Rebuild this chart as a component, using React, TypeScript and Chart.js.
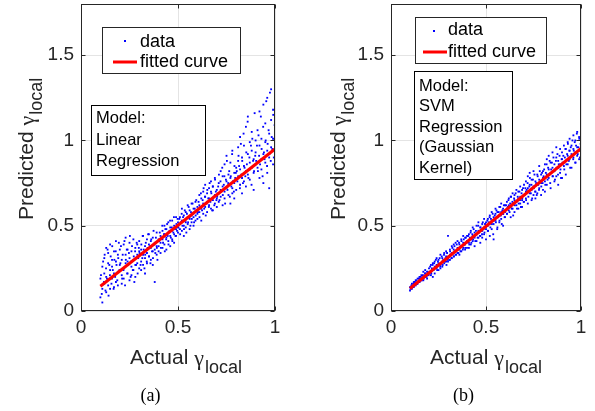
import React, { useEffect, useRef } from "react";
import { Chart, registerables } from "chart.js";

Chart.register(...registerables);

// ---------------- data ----------------
const xTickValues = [0, 0.5, 1];
const xTickLabels = ["0", "0.5", "1"];
const yTickValues = [0, 0.5, 1, 1.5];
const yTickLabels = ["0", "0.5", "1", "1.5"];

const actualGamma = [
  0.10, 0.10, 0.11, 0.11, 0.11, 0.12, 0.12, 0.12, 0.13, 0.13, 0.13, 0.14, 0.14, 0.14, 0.15, 0.15, 0.15, 0.16, 0.16, 0.16, 0.17, 0.17, 0.17, 0.18, 0.18, 0.18, 0.19, 0.19, 0.19, 0.20,
  0.20, 0.21, 0.21, 0.21, 0.22, 0.22, 0.22, 0.23, 0.23, 0.23, 0.24, 0.24, 0.24, 0.25, 0.25, 0.25, 0.26, 0.26, 0.26, 0.27, 0.27, 0.27, 0.28, 0.28, 0.28, 0.29, 0.29, 0.29, 0.30, 0.30,
  0.30, 0.31, 0.31, 0.31, 0.32, 0.32, 0.32, 0.33, 0.33, 0.33, 0.34, 0.34, 0.34, 0.35, 0.35, 0.35, 0.36, 0.36, 0.36, 0.37, 0.37, 0.37, 0.38, 0.38, 0.38, 0.39, 0.39, 0.39, 0.40, 0.40,
  0.40, 0.41, 0.41, 0.41, 0.42, 0.42, 0.42, 0.43, 0.43, 0.43, 0.44, 0.44, 0.44, 0.45, 0.45, 0.45, 0.46, 0.46, 0.46, 0.47, 0.47, 0.47, 0.48, 0.48, 0.48, 0.49, 0.49, 0.49, 0.50, 0.50,
  0.50, 0.51, 0.51, 0.51, 0.52, 0.52, 0.52, 0.53, 0.53, 0.53, 0.54, 0.54, 0.54, 0.55, 0.55, 0.55, 0.56, 0.56, 0.56, 0.57, 0.57, 0.57, 0.58, 0.58, 0.58, 0.59, 0.59, 0.59, 0.60, 0.60,
  0.60, 0.61, 0.61, 0.61, 0.62, 0.62, 0.62, 0.63, 0.63, 0.63, 0.64, 0.64, 0.64, 0.65, 0.65, 0.65, 0.66, 0.66, 0.66, 0.67, 0.67, 0.67, 0.68, 0.68, 0.68, 0.69, 0.69, 0.69, 0.70, 0.70,
  0.70, 0.71, 0.71, 0.71, 0.72, 0.72, 0.72, 0.73, 0.73, 0.73, 0.74, 0.74, 0.74, 0.75, 0.75, 0.75, 0.76, 0.76, 0.76, 0.77, 0.77, 0.77, 0.78, 0.78, 0.78, 0.79, 0.79, 0.79, 0.80, 0.80,
  0.80, 0.81, 0.81, 0.81, 0.82, 0.82, 0.82, 0.83, 0.83, 0.83, 0.84, 0.84, 0.84, 0.85, 0.85, 0.85, 0.86, 0.86, 0.86, 0.87, 0.87, 0.87, 0.88, 0.88, 0.88, 0.89, 0.89, 0.89, 0.90, 0.90,
  0.90, 0.91, 0.91, 0.92, 0.92, 0.92, 0.93, 0.93, 0.93, 0.94, 0.94, 0.94, 0.95, 0.95, 0.95, 0.96, 0.96, 0.96, 0.97, 0.97, 0.97, 0.98, 0.98, 0.98, 0.99, 0.99, 0.99, 1.00, 1.00, 1.00,
  0.103, 0.107, 0.114, 0.118, 0.122, 0.126, 0.129, 0.134, 0.137, 0.142, 0.146, 0.149, 0.153, 0.157, 0.161, 0.164, 0.168, 0.172, 0.176, 0.179, 0.183, 0.187, 0.192, 0.195, 0.198,
  0.203, 0.206, 0.212, 0.215, 0.219, 0.224, 0.227, 0.231, 0.236, 0.238, 0.243, 0.247, 0.252, 0.256, 0.259, 0.263, 0.267, 0.272, 0.275, 0.279, 0.284, 0.287, 0.292, 0.295, 0.298,
  0.302, 0.307, 0.311, 0.316, 0.318, 0.323, 0.327, 0.331, 0.334, 0.339, 0.343, 0.346, 0.351, 0.355, 0.358, 0.362, 0.366, 0.371, 0.374, 0.378, 0.383, 0.386, 0.391, 0.394, 0.398,
  0.403, 0.406, 0.412, 0.415, 0.419, 0.423, 0.428, 0.432, 0.435, 0.439, 0.444, 0.447, 0.451, 0.456, 0.459, 0.463, 0.468, 0.471, 0.476, 0.479, 0.483, 0.487, 0.492, 0.495, 0.498,
  0.502, 0.507, 0.511, 0.514, 0.519, 0.523, 0.526, 0.531, 0.535, 0.538, 0.543, 0.546, 0.552, 0.555, 0.559, 0.564, 0.567, 0.571, 0.575, 0.578, 0.583, 0.586, 0.591, 0.594, 0.598,
  0.603, 0.606, 0.611, 0.615, 0.618, 0.624, 0.627, 0.632, 0.635, 0.639, 0.643, 0.648, 0.651, 0.656, 0.659, 0.663, 0.667, 0.672, 0.676, 0.679, 0.684, 0.687, 0.691, 0.695, 0.698,
  0.702, 0.707, 0.711, 0.714, 0.719, 0.723, 0.728, 0.731, 0.736, 0.739, 0.743, 0.747, 0.752, 0.755, 0.759, 0.764, 0.767, 0.772, 0.775, 0.779, 0.783, 0.788, 0.791, 0.795, 0.798,
  0.803, 0.806, 0.812, 0.815, 0.819, 0.824, 0.827, 0.831, 0.835, 0.838, 0.843, 0.847, 0.852, 0.855, 0.859, 0.863, 0.868, 0.871, 0.876, 0.879, 0.883, 0.887, 0.892, 0.895, 0.898,
  0.903, 0.907, 0.912, 0.915, 0.918, 0.923, 0.927, 0.931, 0.936, 0.939, 0.943, 0.946, 0.952, 0.955, 0.959, 0.962, 0.967, 0.971, 0.974, 0.978, 0.983, 0.986, 0.991, 0.994, 0.998,
];

const linearPredicted = [
  0.19, 0.08, 0.26, 0.13, 0.05, 0.22, 0.31, 0.16, 0.37, 0.20, 0.11, 0.28, 0.15, 0.34, 0.24, 0.39, 0.13, 0.30, 0.19, 0.26, 0.35, 0.14, 0.22, 0.29, 0.17, 0.41, 0.33, 0.23, 0.15, 0.27,
  0.36, 0.21, 0.30, 0.16, 0.39, 0.25, 0.19, 0.33, 0.28, 0.43, 0.22, 0.36, 0.29, 0.18, 0.31, 0.40, 0.26, 0.35, 0.21, 0.30, 0.42, 0.24, 0.37, 0.27, 0.20, 0.33, 0.39, 0.28, 0.25, 0.35,
  0.41, 0.29, 0.36, 0.24, 0.33, 0.44, 0.27, 0.38, 0.31, 0.22, 0.42, 0.34, 0.28, 0.39, 0.32, 0.45, 0.30, 0.37, 0.41, 0.35, 0.27, 0.43, 0.17, 0.36, 0.40, 0.33, 0.46, 0.38, 0.35, 0.42,
  0.38, 0.44, 0.34, 0.40, 0.47, 0.37, 0.42, 0.45, 0.39, 0.50, 0.43, 0.36, 0.48, 0.41, 0.46, 0.52, 0.44, 0.38, 0.49, 0.47, 0.42, 0.53, 0.45, 0.50, 0.40, 0.48, 0.55, 0.44, 0.49, 0.52,
  0.46, 0.51, 0.55, 0.48, 0.53, 0.60, 0.47, 0.50, 0.56, 0.44, 0.52, 0.58, 0.49, 0.55, 0.51, 0.62, 0.54, 0.48, 0.59, 0.56, 0.52, 0.63, 0.55, 0.60, 0.50, 0.58, 0.53, 0.64, 0.57, 0.61,
  0.54, 0.62, 0.58, 0.68, 0.60, 0.53, 0.66, 0.63, 0.70, 0.57, 0.61, 0.67, 0.74, 0.64, 0.58, 0.69, 0.62, 0.72, 0.66, 0.60, 0.70, 0.76, 0.65, 0.59, 0.73, 0.68, 0.63, 0.78, 0.71, 0.66,
  0.61, 0.69, 0.75, 0.64, 0.82, 0.71, 0.67, 0.73, 0.62, 0.79, 0.70, 0.86, 0.66, 0.76, 0.72, 0.91, 0.68, 0.80, 0.74, 0.63, 0.78, 0.87, 0.72, 0.94, 0.69, 0.81, 0.75, 0.66, 0.84, 0.77,
  0.71, 0.88, 0.79, 0.96, 0.74, 0.83, 1.02, 0.78, 0.90, 0.69, 0.85, 0.97, 0.76, 0.82, 1.08, 0.73, 0.92, 0.80, 1.14, 0.87, 0.77, 0.99, 0.84, 0.94, 1.05, 0.81, 0.89, 0.71, 1.00, 0.86,
  0.93, 0.84, 1.06, 0.97, 0.78, 1.17, 0.89, 1.01, 0.83, 0.92, 1.21, 0.75, 0.99, 0.87, 1.10, 0.94, 1.25, 0.81, 1.04, 0.90, 0.72, 1.30, 0.96, 1.12, 0.86, 1.01, 1.18, 1.35, 0.93, 1.08,
  0.21, 0.10, 0.29, 0.17, 0.33, 0.12, 0.25, 0.19, 0.36, 0.09, 0.27, 0.21, 0.32, 0.16, 0.38, 0.24, 0.13, 0.30, 0.20, 0.35, 0.27, 0.18, 0.31, 0.40, 0.24,
  0.28, 0.38, 0.19, 0.33, 0.24, 0.41, 0.15, 0.30, 0.36, 0.22, 0.27, 0.34, 0.44, 0.20, 0.29, 0.38, 0.24, 0.32, 0.17, 0.35, 0.27, 0.40, 0.22, 0.31, 0.37,
  0.34, 0.27, 0.39, 0.31, 0.44, 0.36, 0.25, 0.33, 0.40, 0.29, 0.37, 0.45, 0.32, 0.38, 0.28, 0.42, 0.35, 0.31, 0.47, 0.39, 0.34, 0.43, 0.37, 0.30, 0.41,
  0.41, 0.46, 0.37, 0.43, 0.50, 0.40, 0.45, 0.35, 0.48, 0.42, 0.51, 0.44, 0.39, 0.47, 0.53, 0.43, 0.49, 0.41, 0.46, 0.55, 0.48, 0.44, 0.51, 0.47, 0.54,
  0.49, 0.54, 0.45, 0.52, 0.57, 0.50, 0.55, 0.48, 0.59, 0.53, 0.46, 0.57, 0.52, 0.61, 0.55, 0.50, 0.58, 0.54, 0.63, 0.57, 0.52, 0.60, 0.56, 0.65, 0.59,
  0.58, 0.64, 0.55, 0.61, 0.69, 0.59, 0.65, 0.72, 0.60, 0.67, 0.56, 0.63, 0.71, 0.66, 0.61, 0.75, 0.64, 0.69, 0.59, 0.73, 0.67, 0.62, 0.77, 0.70, 0.65,
  0.67, 0.73, 0.80, 0.65, 0.76, 0.70, 0.84, 0.68, 0.74, 0.79, 0.63, 0.77, 0.88, 0.71, 0.75, 0.82, 0.67, 0.79, 0.73, 0.92, 0.76, 0.70, 0.85, 0.78, 0.81,
  0.82, 0.76, 0.91, 0.85, 0.72, 0.98, 0.80, 0.88, 0.75, 1.04, 0.84, 0.79, 0.93, 0.86, 1.11, 0.78, 0.90, 0.83, 0.97, 0.74, 1.01, 0.88, 0.82, 1.16, 0.91,
  0.88, 0.97, 0.82, 1.03, 0.91, 0.86, 1.14, 0.95, 0.79, 1.08, 0.93, 0.89, 1.00, 1.23, 0.85, 0.98, 1.06, 0.92, 1.28, 0.88, 1.02, 0.95, 1.15, 0.90, 1.09,
];

const svmPredicted = [
  0.14, 0.12, 0.16, 0.13, 0.15, 0.17, 0.14, 0.15, 0.18, 0.15, 0.16, 0.19, 0.16, 0.17, 0.20, 0.17, 0.19, 0.21, 0.18, 0.19, 0.20, 0.23, 0.18, 0.22, 0.20, 0.24, 0.21, 0.23, 0.19, 0.22,
  0.25, 0.21, 0.27, 0.23, 0.24, 0.20, 0.28, 0.26, 0.22, 0.29, 0.25, 0.27, 0.31, 0.28, 0.24, 0.30, 0.27, 0.33, 0.25, 0.29, 0.31, 0.26, 0.30, 0.34, 0.28, 0.32, 0.29, 0.35, 0.31, 0.44,
  0.29, 0.33, 0.30, 0.36, 0.34, 0.31, 0.38, 0.32, 0.36, 0.39, 0.35, 0.33, 0.40, 0.37, 0.34, 0.41, 0.36, 0.39, 0.33, 0.38, 0.42, 0.35, 0.40, 0.37, 0.44, 0.39, 0.36, 0.43, 0.41, 0.37,
  0.44, 0.40, 0.45, 0.37, 0.42, 0.47, 0.39, 0.44, 0.41, 0.49, 0.43, 0.38, 0.46, 0.45, 0.41, 0.50, 0.47, 0.43, 0.52, 0.44, 0.49, 0.40, 0.47, 0.51, 0.43, 0.49, 0.45, 0.54, 0.48, 0.42,
  0.52, 0.47, 0.54, 0.50, 0.56, 0.44, 0.51, 0.53, 0.58, 0.48, 0.55, 0.51, 0.42, 0.57, 0.53, 0.60, 0.55, 0.49, 0.58, 0.56, 0.61, 0.52, 0.58, 0.54, 0.63, 0.57, 0.50, 0.60, 0.58, 0.62,
  0.55, 0.60, 0.64, 0.57, 0.62, 0.66, 0.59, 0.61, 0.67, 0.55, 0.63, 0.60, 0.69, 0.65, 0.58, 0.68, 0.62, 0.71, 0.64, 0.66, 0.60, 0.70, 0.67, 0.63, 0.73, 0.65, 0.71, 0.61, 0.68, 0.74,
  0.64, 0.70, 0.76, 0.66, 0.72, 0.79, 0.63, 0.69, 0.74, 0.81, 0.71, 0.65, 0.77, 0.73, 0.68, 0.82, 0.70, 0.76, 0.66, 0.74, 0.80, 0.69, 0.77, 0.72, 0.85, 0.75, 0.68, 0.80, 0.78, 0.71,
  0.82, 0.76, 0.86, 0.70, 0.80, 0.89, 0.74, 0.83, 0.78, 0.91, 0.81, 0.72, 0.87, 0.84, 0.79, 0.93, 0.76, 0.86, 0.82, 0.90, 0.79, 0.96, 0.84, 0.74, 0.88, 0.86, 0.81, 0.95, 0.89, 0.78,
  0.93, 0.85, 0.97, 0.88, 0.95, 0.80, 0.91, 0.99, 0.86, 0.94, 0.89, 1.01, 0.92, 0.84, 0.97, 0.95, 0.90, 1.03, 0.93, 0.87, 1.00, 0.96, 0.91, 1.05, 0.94, 0.89, 1.02, 0.98, 1.07, 0.93,
  0.13, 0.15, 0.14, 0.16, 0.15, 0.17, 0.16, 0.18, 0.16, 0.17, 0.19, 0.17, 0.18, 0.20, 0.18, 0.19, 0.21, 0.19, 0.20, 0.22, 0.21, 0.20, 0.23, 0.22, 0.21,
  0.23, 0.26, 0.22, 0.25, 0.27, 0.24, 0.28, 0.25, 0.30, 0.26, 0.24, 0.29, 0.27, 0.31, 0.26, 0.28, 0.32, 0.27, 0.30, 0.33, 0.29, 0.31, 0.27, 0.34, 0.30,
  0.32, 0.30, 0.35, 0.33, 0.31, 0.37, 0.34, 0.32, 0.38, 0.35, 0.33, 0.39, 0.36, 0.34, 0.40, 0.37, 0.35, 0.41, 0.38, 0.36, 0.42, 0.39, 0.37, 0.43, 0.40,
  0.41, 0.44, 0.39, 0.43, 0.46, 0.40, 0.45, 0.42, 0.48, 0.44, 0.41, 0.47, 0.45, 0.43, 0.50, 0.46, 0.44, 0.49, 0.47, 0.45, 0.52, 0.48, 0.46, 0.51, 0.49,
  0.50, 0.53, 0.47, 0.52, 0.55, 0.49, 0.54, 0.51, 0.57, 0.45, 0.53, 0.56, 0.52, 0.59, 0.48, 0.55, 0.58, 0.53, 0.61, 0.56, 0.51, 0.59, 0.57, 0.62, 0.55,
  0.59, 0.62, 0.57, 0.61, 0.65, 0.58, 0.63, 0.67, 0.60, 0.64, 0.56, 0.66, 0.62, 0.69, 0.64, 0.60, 0.67, 0.63, 0.70, 0.65, 0.61, 0.69, 0.66, 0.72, 0.64,
  0.68, 0.72, 0.65, 0.71, 0.75, 0.67, 0.73, 0.78, 0.69, 0.74, 0.66, 0.77, 0.72, 0.80, 0.70, 0.75, 0.68, 0.79, 0.74, 0.71, 0.82, 0.76, 0.73, 0.81, 0.75,
  0.79, 0.83, 0.74, 0.81, 0.86, 0.77, 0.84, 0.80, 0.88, 0.75, 0.83, 0.87, 0.79, 0.90, 0.82, 0.77, 0.88, 0.84, 0.92, 0.80, 0.86, 0.91, 0.83, 0.78, 0.89,
  0.87, 0.91, 0.83, 0.90, 0.95, 0.86, 0.92, 0.98, 0.88, 0.94, 0.84, 0.96, 0.91, 1.00, 0.89, 0.94, 0.99, 0.87, 0.97, 1.04, 0.92, 0.96, 1.01, 0.90, 0.98,
];

const fitActual = [0.1, 1.0];
const linearFitPredicted = [0.145, 0.95];
const svmFitPredicted = [0.132, 0.953];

const legendLabels = ["data", "fitted curve"];
const linearModelText = ["Model:", "Linear", "Regression"];
const svmModelText = ["Model:", "SVM", "Regression", "(Gaussian", "Kernel)"];
const panelLabels = ["(a)", "(b)"];

// ---------------- styling / layout ----------------
const FONT = '"Liberation Sans", Arial, Helvetica, sans-serif';
const SERIF = '"Liberation Serif", "Times New Roman", serif';
const INK = "#262626";
const H = 411;

type Panel = {
  offsetX: number;
  width: number;
  area: { left: number; right: number; top: number; bottom: number };
  predicted: number[];
  fitPredicted: number[];
  yTitle: { x: number; y: number };
  xTitle: { x: number; y: number };
  label: string;
  labelPos: { x: number; y: number };
  legend: {
    x: number; y: number; w: number; h: number;
    dot: [number, number]; t1: [number, number];
    line: [number, number, number]; t2: [number, number];
  };
  model: { x: number; y: number; w: number; h: number; tx: number; baselines: number[]; lines: string[] };
};

const panels: Panel[] = [
  {
    offsetX: 0,
    width: 298,
    area: { left: 81, right: 275, top: 3, bottom: 311 },
    predicted: linearPredicted,
    fitPredicted: linearFitPredicted,
    yTitle: { x: 33, y: 220 },
    xTitle: { x: 130, y: 364 },
    label: panelLabels[0],
    labelPos: { x: 150.5, y: 401 },
    legend: { x: 102, y: 27, w: 138, h: 46, dot: [125, 41], t1: [140, 47], line: [113, 137, 62], t2: [140, 67] },
    model: { x: 91, y: 105, w: 114, h: 70, tx: 96, baselines: [123, 145, 166], lines: linearModelText },
  },
  {
    offsetX: 298,
    width: 297,
    area: { left: 93, right: 283, top: 3, bottom: 311 },
    predicted: svmPredicted,
    fitPredicted: svmFitPredicted,
    yTitle: { x: 345, y: 220 },
    xTitle: { x: 430, y: 364 },
    label: panelLabels[1],
    labelPos: { x: 463.5, y: 401 },
    legend: { x: 415, y: 17, w: 131, h: 46, dot: [434, 31], t1: [448, 35], line: [423, 447, 52], t2: [448, 57] },
    model: { x: 414, y: 71, w: 98, h: 108, tx: 419, baselines: [91, 111, 132, 152, 173], lines: svmModelText },
  },
];

type Part = { t: string; size: number; dy: number; family: string };
const titleParts = (word: string): Part[] => [
  { t: word + " ", size: 21, dy: 0, family: FONT },
  { t: "\u03B3", size: 22, dy: 1, family: SERIF },
  { t: "local", size: 18, dy: 9, family: FONT },
];

function drawRich(ctx: CanvasRenderingContext2D, parts: Part[], x: number, y: number) {
  let cx = x;
  for (const p of parts) {
    ctx.font = `${p.size}px ${p.family}`;
    ctx.fillText(p.t, cx, y + p.dy);
    cx += ctx.measureText(p.t).width + (p.family === SERIF ? 1 : 0);
  }
}

function decorPlugin(p: Panel) {
  return {
    id: "decor",
    afterDraw(chart: any) {
      const ctx: CanvasRenderingContext2D = chart.ctx;
      const ox = p.offsetX;
      const { left, right, top, bottom } = chart.chartArea;
      const xs = chart.scales.x;
      const ys = chart.scales.y;
      ctx.save();
      // axes box
      ctx.strokeStyle = INK;
      ctx.lineWidth = 1;
      const L = Math.round(left) + 0.5, R = Math.round(right) - 0.5;
      const T = Math.round(top) + 0.5, B = Math.round(bottom) - 0.5;
      ctx.strokeRect(L, T, R - L, B - T);
      // inward ticks
      ctx.beginPath();
      xTickValues.forEach((v) => {
        const px = Math.round(xs.getPixelForValue(v)) + 0.5;
        ctx.moveTo(px, B); ctx.lineTo(px, B - 4);
        ctx.moveTo(px, T); ctx.lineTo(px, T + 4);
      });
      yTickValues.forEach((v) => {
        const py = Math.round(ys.getPixelForValue(v)) + 0.5;
        ctx.moveTo(L, py); ctx.lineTo(L + 4, py);
        ctx.moveTo(R, py); ctx.lineTo(R - 4, py);
      });
      ctx.stroke();

      // legend
      const lg = p.legend;
      ctx.fillStyle = "#ffffff";
      ctx.fillRect(lg.x - ox, lg.y, lg.w, lg.h);
      ctx.strokeStyle = INK;
      ctx.lineWidth = 1;
      ctx.strokeRect(lg.x - ox + 0.5, lg.y + 0.5, lg.w, lg.h);
      ctx.fillStyle = "#0000ff";
      ctx.fillRect(lg.dot[0] - ox - 1, lg.dot[1] - 1, 2, 2);
      ctx.fillStyle = "#000000";
      ctx.textAlign = "left";
      ctx.textBaseline = "alphabetic";
      ctx.font = `18px ${FONT}`;
      ctx.fillText(legendLabels[0], lg.t1[0] - ox, lg.t1[1]);
      ctx.strokeStyle = "#ff0000";
      ctx.lineWidth = 3;
      ctx.beginPath();
      ctx.moveTo(lg.line[0] - ox, lg.line[2]);
      ctx.lineTo(lg.line[1] - ox, lg.line[2]);
      ctx.stroke();
      ctx.fillText(legendLabels[1], lg.t2[0] - ox, lg.t2[1]);

      // model text box
      const m = p.model;
      ctx.fillStyle = "#ffffff";
      ctx.fillRect(m.x - ox, m.y, m.w, m.h);
      ctx.strokeStyle = "#000000";
      ctx.lineWidth = 1;
      ctx.strokeRect(m.x - ox + 0.5, m.y + 0.5, m.w, m.h);
      ctx.fillStyle = "#000000";
      ctx.font = `16.5px ${FONT}`;
      m.lines.forEach((s, i) => ctx.fillText(s, m.tx - ox, m.baselines[i]));

      // axis titles
      ctx.fillStyle = INK;
      drawRich(ctx, titleParts("Actual"), p.xTitle.x - ox, p.xTitle.y);
      ctx.save();
      ctx.translate(p.yTitle.x - ox, p.yTitle.y);
      ctx.rotate(-Math.PI / 2);
      drawRich(ctx, titleParts("Predicted"), 0, 0);
      ctx.restore();

      // panel label
      ctx.fillStyle = "#000000";
      ctx.textAlign = "center";
      ctx.font = `18px ${SERIF}`;
      ctx.fillText(p.label, p.labelPos.x - ox, p.labelPos.y);
      ctx.restore();
    },
  };
}

function makeConfig(p: Panel): any {
  const tickFont = { family: FONT, size: 19 };
  return {
    type: "scatter",
    data: {
      datasets: [
        {
          type: "line",
          label: legendLabels[1],
          data: fitActual.map((x, i) => ({ x, y: p.fitPredicted[i] })),
          borderColor: "#ff0000",
          borderWidth: 3,
          pointRadius: 0,
          fill: false,
          order: 0,
        },
        {
          label: legendLabels[0],
          data: actualGamma.map((x, i) => ({ x, y: p.predicted[i] })),
          backgroundColor: "#0000ff",
          borderWidth: 0,
          pointStyle: "rect",
          pointRadius: 1.3,
          order: 1,
        },
      ],
    },
    options: {
      responsive: false,
      animation: false,
      devicePixelRatio: 1,
      events: [],
      layout: { padding: { left: 0, right: p.width - p.area.right, top: p.area.top, bottom: 0 } },
      plugins: { legend: { display: false }, tooltip: { enabled: false }, title: { display: false } },
      scales: {
        x: {
          type: "linear",
          min: 0,
          max: 1,
          afterBuildTicks: (s: any) => { s.ticks = xTickValues.map((v) => ({ value: v })); },
          afterFit: (s: any) => { s.height = H - p.area.bottom; s.paddingLeft = 0; s.paddingRight = 0; },
          ticks: {
            callback: (v: number) => { const i = xTickValues.indexOf(v); return i >= 0 ? xTickLabels[i] : ""; },
            color: INK, font: tickFont, padding: 5, maxRotation: 0, autoSkip: false,
          },
          grid: { color: "#e4e4e4", lineWidth: 1, drawTicks: false },
          border: { display: false },
        },
        y: {
          type: "linear",
          min: 0,
          max: 1.8,
          afterBuildTicks: (s: any) => { s.ticks = yTickValues.map((v) => ({ value: v })); },
          afterFit: (s: any) => { s.width = p.area.left; s.paddingTop = 0; s.paddingBottom = 0; },
          ticks: {
            callback: (v: number) => { const i = yTickValues.indexOf(v); return i >= 0 ? yTickLabels[i] : ""; },
            color: INK, font: tickFont, padding: 7, autoSkip: false,
          },
          grid: { color: "#e4e4e4", lineWidth: 1, drawTicks: false },
          border: { display: false },
        },
      },
    },
    plugins: [decorPlugin(p)],
  };
}

function PanelChart({ panel }: { panel: Panel }) {
  const ref = useRef<HTMLCanvasElement>(null);
  useEffect(() => {
    const chart = new Chart(ref.current as HTMLCanvasElement, makeConfig(panel));
    return () => chart.destroy();
  }, [panel]);
  return (
    <canvas
      ref={ref}
      width={panel.width}
      height={H}
      style={{ position: "absolute", left: panel.offsetX, top: 0, width: panel.width, height: H }}
    />
  );
}

export default function App() {
  return (
    <div style={{ position: "fixed", left: 0, top: 0, width: 595, height: H, background: "#ffffff", overflow: "hidden" }}>
      {panels.map((p, i) => (
        <PanelChart key={i} panel={p} />
      ))}
    </div>
  );
}
